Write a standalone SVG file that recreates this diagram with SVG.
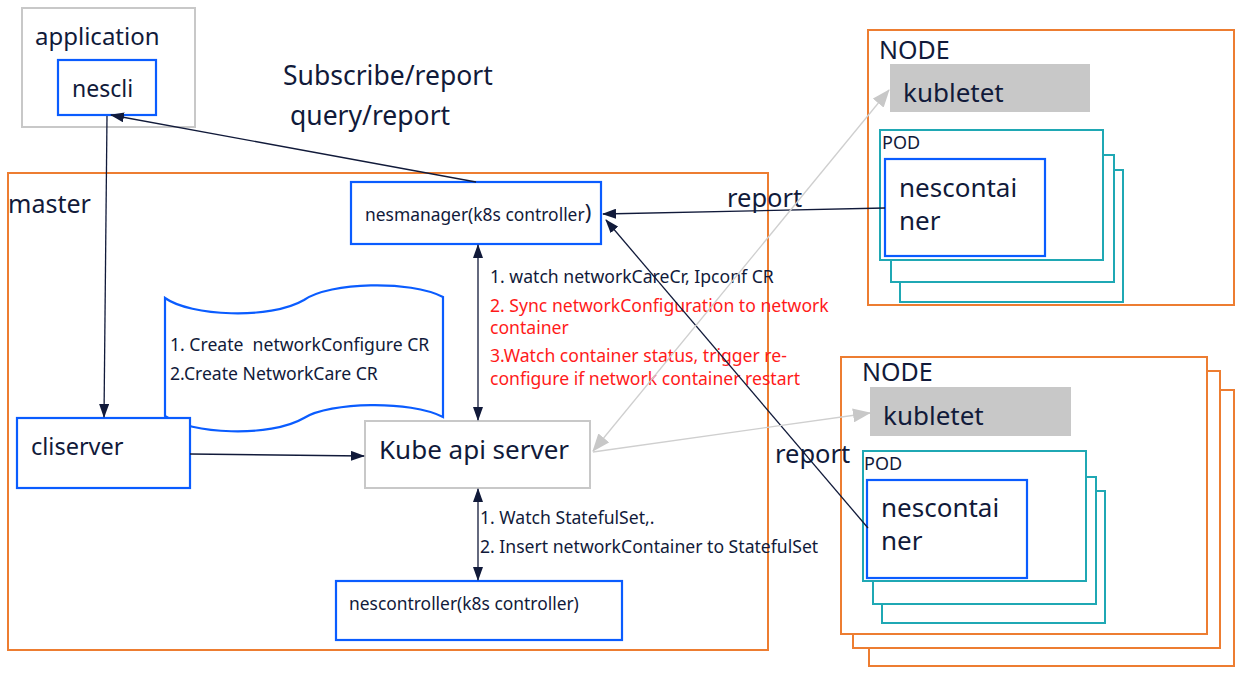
<svg xmlns="http://www.w3.org/2000/svg" width="1241" height="674" viewBox="0 0 1241 674">
<defs>
<style>
.t{font-family:"Noto Sans","Open Sans","Liberation Sans",sans-serif;fill:#111a3a}
.r{font-family:"Noto Sans","Open Sans","Liberation Sans",sans-serif;fill:#ff1a1a}
.s{font-size:17.6px}
.org{fill:#fff;stroke:#ed7d31;stroke-width:2}
.blu{fill:#fff;stroke:#0a5cff;stroke-width:2.2}
.gry{fill:#fff;stroke:#c8c8c8;stroke-width:2}
.teal{fill:#fff;stroke:#1fa8b4;stroke-width:2}
.kub{fill:#c8c8c8;stroke:none}
.dk{stroke:#111a3a;stroke-width:1.3;fill:none}
.lg{stroke:#cfcfcf;stroke-width:1.3;fill:none}
</style>
<marker id="ad" viewBox="0 0 14 10" refX="13" refY="5" markerWidth="14" markerHeight="10" markerUnits="userSpaceOnUse" orient="auto-start-reverse">
<path d="M0,0 L14,5 L0,10 Z" fill="#111a3a"/>
</marker>
<marker id="ag" viewBox="0 0 18 14" refX="17" refY="7" markerWidth="18" markerHeight="14" markerUnits="userSpaceOnUse" orient="auto-start-reverse">
<path d="M0,0 L18,7 L0,14 Z" fill="#c8c8c8"/>
</marker>
</defs>
<rect width="1241" height="674" fill="#fff"/>

<g id="application">
<rect class="gry" x="22" y="8" width="173" height="119"/>
<text class="t" x="35" y="45" font-size="24">application</text>
</g>
<g id="nescli">
<rect class="blu" x="58" y="60" width="98" height="55"/>
<text class="t" x="72" y="97" font-size="23">nescli</text>
</g>

<text class="t" x="283" y="85" font-size="26.5">Subscribe/report</text>
<text class="t" x="290" y="125" font-size="26.5">query/report</text>

<g id="master">
<rect class="org" x="8" y="173" width="760" height="477"/>
<text class="t" x="8" y="213" font-size="25">master</text>
</g>

<g id="nesmanager">
<rect class="blu" x="351" y="182" width="250" height="62"/>
<text class="t" x="365" y="221" font-size="17.4">nesmanager(k8s controller<tspan font-size="22" dy="-1">)</tspan></text>
</g>

<g id="crs">
<path d="M165,298 C190,316 270,320 304,300 C330,282 410,280 443,297 L443,417 C410,400 330,402 304,418 C270,438 190,434 165,416 Z" fill="#fff" stroke="#0a5cff" stroke-width="2.2"/>
<text class="t s" x="170" y="351">1. Create&#160; networkConfigure CR</text>
<text class="t s" x="170" y="380">2.Create NetworkCare CR</text>
</g>

<g id="cliserver">
<rect class="blu" x="17" y="418" width="173" height="70"/>
<text class="t" x="31" y="455" font-size="23.5">cliserver</text>
</g>

<g id="kubeapi">
<rect class="gry" x="365" y="421" width="225" height="67"/>
<text class="t" x="379" y="459" font-size="26">Kube api server</text>
</g>

<g id="nescontroller">
<rect class="blu" x="336" y="581" width="286" height="59"/>
<text class="t" x="349" y="610" font-size="17.4">nescontroller(k8s controller)</text>
</g>

<g id="labels">
<text class="t s" x="490" y="283">1. watch networkCareCr, Ipconf CR</text>
<text class="r s" x="490" y="312">2. Sync networkConfiguration to network</text>
<text class="r s" x="490" y="334">container</text>
<text class="r s" x="490" y="362">3.Watch container status, trigger re-</text>
<text class="r s" x="490" y="385">configure if network container restart</text>
<text class="t s" x="480" y="524">1. Watch StatefulSet,.</text>
<text class="t s" x="480" y="553">2. Insert networkContainer to StatefulSet</text>
</g>

<g id="node1">
<rect class="org" x="868" y="30" width="366" height="275"/>
<text class="t" x="879" y="59" font-size="25">NODE</text>
<rect class="kub" x="890" y="64" width="200" height="48"/>
<text class="t" x="903" y="102" font-size="26">kubletet</text>
<rect class="teal" x="900" y="170" width="223" height="132"/>
<rect class="teal" x="891" y="155" width="223" height="127"/>
<rect class="teal" x="880" y="130" width="223" height="130"/>
<text class="t" x="882" y="149" font-size="18">POD</text>
</g>
<g id="nescontainer1">
<rect class="blu" x="885" y="159" width="160" height="97"/>
<text class="t" x="899" y="197" font-size="26">nescontai</text>
<text class="t" x="899" y="230" font-size="26">ner</text>
</g>

<g id="node2">
<rect class="org" x="869" y="390" width="365" height="276"/>
<rect class="org" x="853" y="371" width="367" height="277"/>
<rect class="org" x="841" y="357" width="366" height="277"/>
<text class="t" x="862" y="381" font-size="25">NODE</text>
<rect class="kub" x="870" y="387" width="201" height="49"/>
<text class="t" x="883" y="425" font-size="26">kubletet</text>
<rect class="teal" x="882" y="491" width="223" height="132"/>
<rect class="teal" x="873" y="477" width="223" height="127"/>
<rect class="teal" x="863" y="451" width="223" height="130"/>
<text class="t" x="864" y="470" font-size="18">POD</text>
</g>
<g id="nescontainer2">
<rect class="blu" x="867" y="480" width="160" height="98"/>
<text class="t" x="881" y="517" font-size="26">nescontai</text>
<text class="t" x="881" y="550" font-size="26">ner</text>
</g>

<text class="t" x="727" y="207" font-size="25.5">report</text>
<text class="t" x="775" y="463" font-size="25.5">report</text>

<g id="connectors">
<line class="dk" x1="476" y1="182" x2="111" y2="115" marker-end="url(#ad)"/>
<line class="dk" x1="107" y1="116" x2="104" y2="417" marker-end="url(#ad)"/>
<line class="dk" x1="190" y1="454" x2="364" y2="456" marker-end="url(#ad)"/>
<line class="dk" x1="478" y1="245" x2="478" y2="420" marker-start="url(#ad)" marker-end="url(#ad)"/>
<line class="dk" x1="478" y1="489" x2="478" y2="580" marker-start="url(#ad)" marker-end="url(#ad)"/>
<line class="dk" x1="885" y1="208" x2="603" y2="214" marker-end="url(#ad)"/>
<line class="dk" x1="868" y1="528" x2="606" y2="220" marker-end="url(#ad)"/>
<line class="lg" x1="593" y1="451" x2="889" y2="90" marker-start="url(#ag)" marker-end="url(#ag)"/>
<line class="lg" x1="593" y1="452" x2="870" y2="413" marker-end="url(#ag)"/>
</g>
</svg>
